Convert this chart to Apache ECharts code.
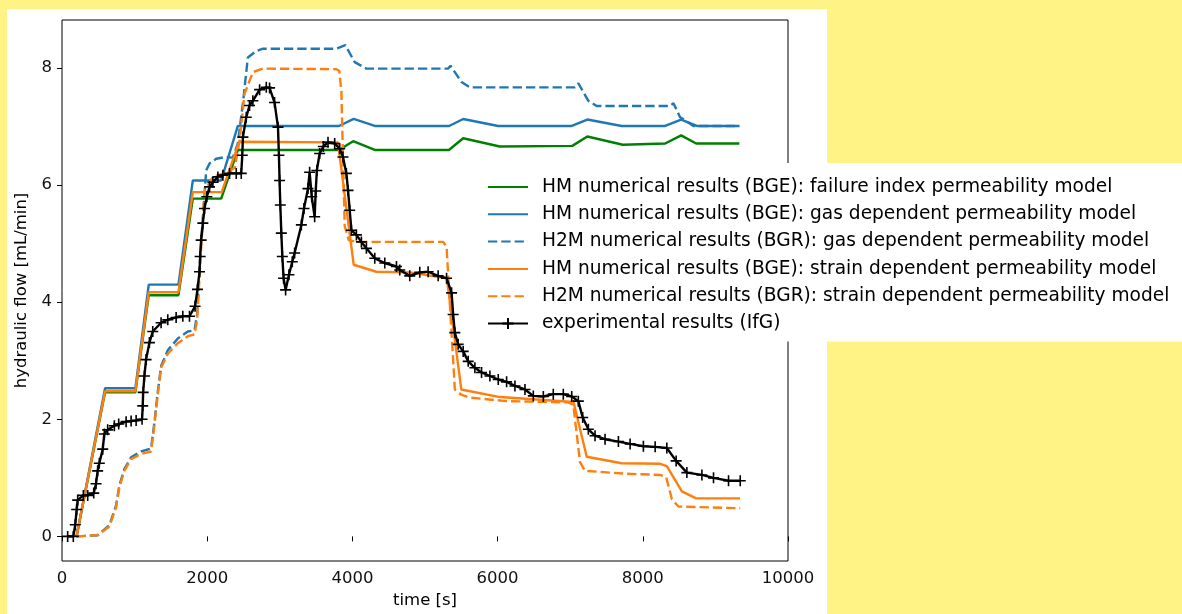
<!DOCTYPE html>
<html>
<head>
<meta charset="utf-8">
<script src="https://cdn.jsdelivr.net/npm/echarts@6/dist/echarts.min.js"></script>
<style>
html,body{margin:0;padding:0;background:#fff386;width:1182px;height:614px;overflow:hidden;}
#panel{position:absolute;left:7px;top:9px;width:820px;height:605px;background:#fff;}
#chart{position:absolute;left:0;top:0;width:1182px;height:614px;}
</style>
</head>
<body>
<div id="panel"></div>
<div id="chart"></div>
<script>
// ---- data (time [s], hydraulic flow [mL/min]) ----
const xTicks = [0, 2000, 4000, 6000, 8000, 10000];
const yTicks = [0, 2, 4, 6, 8];

const seriesNames = [
  'HM numerical results (BGE): failure index permeability model',
  'HM numerical results (BGE): gas dependent permeability model',
  'H2M numerical results (BGR): gas dependent permeability model',
  'HM numerical results (BGE): strain dependent permeability model',
  'H2M numerical results (BGR): strain dependent permeability model',
  'experimental results (IfG)'
];

const hmFailureT = [200, 593, 1011, 1195, 1604, 1802, 2193, 2422, 3815, 4010, 4308, 5329, 5526, 6030, 7029, 7236, 7724, 8308, 8528, 8735, 9330];
const hmFailureV = [0, 2.46, 2.46, 4.12, 4.12, 5.77, 5.77, 6.60, 6.60, 6.75, 6.60, 6.60, 6.80, 6.66, 6.67, 6.83, 6.69, 6.71, 6.85, 6.71, 6.71];

const hmGasT = [200, 593, 1011, 1195, 1604, 1802, 2193, 2422, 3815, 4018, 4308, 5332, 5526, 6008, 7021, 7236, 7710, 8308, 8528, 8745, 9330];
const hmGasV = [0, 2.53, 2.53, 4.30, 4.30, 6.08, 6.08, 7.01, 7.01, 7.13, 7.01, 7.01, 7.13, 7.01, 7.01, 7.12, 7.01, 7.01, 7.12, 7.01, 7.01];

const h2mGasT = [200, 491, 652, 745, 790, 859, 951, 1089, 1227, 1273, 1319, 1365, 1457, 1595, 1733, 1825, 1862, 1910, 1986, 2032, 2124, 2250, 2353, 2420, 2491, 2560, 2676, 2767, 3779, 3903, 4032, 4193, 5319, 5352, 5503, 5618, 7066, 7112, 7250, 7365, 8377, 8422, 8514, 8698, 9330];
const h2mGasV = [0, 0.02, 0.19, 0.53, 0.87, 1.15, 1.35, 1.45, 1.50, 1.95, 2.46, 2.91, 3.18, 3.38, 3.50, 3.52, 3.80, 4.90, 6.25, 6.37, 6.45, 6.48, 6.47, 6.70, 7.39, 8.18, 8.29, 8.33, 8.33, 8.39, 8.10, 7.99, 7.99, 8.04, 7.76, 7.67, 7.67, 7.74, 7.44, 7.35, 7.35, 7.40, 7.16, 7.01, 7.01];

const hmStrainT = [200, 593, 1011, 1195, 1604, 1802, 2200, 2440, 3800, 4018, 4331, 4790, 5300, 5500, 6032, 6997, 7043, 7228, 7710, 8239, 8331, 8538, 8735, 9340];
const hmStrainV = [0, 2.48, 2.48, 4.17, 4.17, 5.88, 5.88, 6.74, 6.73, 4.64, 4.52, 4.51, 4.41, 2.51, 2.38, 2.30, 2.31, 1.36, 1.25, 1.24, 1.20, 0.77, 0.65, 0.65];

const h2mStrainT = [200, 491, 652, 745, 790, 859, 951, 1089, 1227, 1273, 1319, 1365, 1457, 1595, 1733, 1825, 1862, 1910, 1964, 2077, 2284, 2380, 2446, 2514, 2629, 2767, 3779, 3820, 3848, 3894, 3950, 4055, 5250, 5297, 5411, 5500, 5618, 6124, 6974, 7043, 7135, 7204, 7779, 8239, 8322, 8400, 8491, 9342];
const h2mStrainV = [0, 0.02, 0.17, 0.50, 0.84, 1.12, 1.32, 1.41, 1.45, 1.90, 2.42, 2.88, 3.12, 3.30, 3.42, 3.45, 3.70, 4.80, 5.90, 6.14, 6.22, 6.30, 6.76, 7.56, 7.93, 7.99, 7.98, 7.95, 7.60, 5.30, 5.06, 5.03, 5.03, 4.95, 2.51, 2.42, 2.37, 2.31, 2.29, 2.25, 1.27, 1.12, 1.07, 1.05, 1.01, 0.64, 0.51, 0.48];

const expT = [78, 156, 183, 202, 216, 294, 354, 437, 469, 491, 514, 561, 583, 629, 721, 781, 883, 952, 1021, 1103, 1112, 1118, 1135, 1158, 1204, 1250, 1365, 1457, 1572, 1664, 1756, 1833, 1866, 1894, 1903, 1917, 1940, 1963, 1995, 2032, 2078, 2147, 2216, 2308, 2400, 2469, 2483, 2492, 2538, 2583, 2629, 2722, 2814, 2859, 2928, 2975, 2988, 2997, 3007, 3021, 3035, 3052, 3080, 3126, 3172, 3204, 3297, 3333, 3388, 3411, 3440, 3480, 3495, 3510, 3549, 3600, 3664, 3756, 3825, 3870, 3917, 3940, 3963, 3986, 4055, 4124, 4193, 4308, 4446, 4607, 4652, 4790, 4928, 5043, 5181, 5297, 5366, 5388, 5411, 5457, 5526, 5595, 5687, 5779, 5894, 6009, 6124, 6239, 6377, 6492, 6630, 6767, 6905, 7021, 7112, 7172, 7250, 7342, 7480, 7664, 7825, 8008, 8170, 8331, 8459, 8607, 8814, 8974, 9181, 9342];
const expV = [0, 0, 0.20, 0.46, 0.62, 0.70, 0.70, 0.74, 0.90, 1.12, 1.25, 1.49, 1.75, 1.82, 1.89, 1.92, 1.96, 1.97, 1.98, 2.00, 2.23, 2.46, 2.74, 3.02, 3.31, 3.50, 3.65, 3.70, 3.74, 3.76, 3.76, 3.93, 4.22, 4.52, 4.78, 5.06, 5.35, 5.60, 5.80, 5.97, 6.05, 6.14, 6.17, 6.20, 6.20, 6.20, 6.51, 6.82, 7.16, 7.36, 7.44, 7.63, 7.67, 7.66, 7.41, 6.99, 6.51, 6.08, 5.66, 5.18, 4.78, 4.41, 4.21, 4.47, 4.69, 4.84, 5.32, 5.60, 5.94, 6.22, 5.80, 5.46, 5.90, 6.25, 6.54, 6.66, 6.73, 6.71, 6.62, 6.48, 6.20, 5.91, 5.57, 5.23, 5.15, 5.03, 4.92, 4.75, 4.67, 4.61, 4.55, 4.45, 4.51, 4.52, 4.45, 4.41, 4.16, 3.79, 3.48, 3.28, 3.16, 2.99, 2.88, 2.80, 2.74, 2.68, 2.64, 2.57, 2.51, 2.40, 2.39, 2.43, 2.43, 2.39, 2.31, 2.03, 1.83, 1.72, 1.66, 1.62, 1.58, 1.54, 1.53, 1.51, 1.29, 1.09, 1.05, 1.00, 0.95, 0.95];

// ---- chart ----
const zip = (t, v) => t.map((x, i) => [x, v[i]]);
const FONT = 'DejaVu Sans';
const FS = 16.5;
const LFS = 18.6;

function lineSeries(name, t, v, color, dashed) {
  return {
    name: name, type: 'line', data: zip(t, v),
    symbol: 'none', showSymbol: false, animation: false,
    lineStyle: { color: color, width: 2.4, type: dashed ? [9.3, 4] : 'solid' },
    itemStyle: { color: color }
  };
}

const legendData = seriesNames.map((n, i) => i < 5 ? { name: n, itemStyle: { opacity: 0 } } : { name: n });

const chart = echarts.init(document.getElementById('chart'), null, { renderer: 'canvas' });
chart.setOption({
  animation: false,
  backgroundColor: 'transparent',
  textStyle: { fontFamily: FONT },
  grid: { left: 62, right: 394, top: 20, bottom: 52, show: true, borderColor: '#000', borderWidth: 1, backgroundColor: 'transparent' },
  xAxis: {
    type: 'value', min: xTicks[0], max: xTicks[xTicks.length - 1], interval: 2000,
    name: 'time [s]', nameLocation: 'middle', nameGap: 31,
    nameTextStyle: { fontFamily: FONT, fontSize: FS, color: '#000' },
    axisLine: { show: false },
    axisTick: { show: true, length: 5, lineStyle: { color: '#000', width: 1 } },
    axisLabel: { fontFamily: FONT, fontSize: FS, color: '#111', margin: 9, formatter: v => String(v) },
    splitLine: { show: false }
  },
  yAxis: {
    type: 'value', min: -0.42, max: 8.82,
    name: 'hydraulic flow [mL/min]', nameLocation: 'middle', nameGap: 29, nameRotate: 90,
    nameTextStyle: { fontFamily: FONT, fontSize: FS, color: '#000' },
    axisLine: { show: false },
    axisTick: { show: true, length: 5, customValues: yTicks, lineStyle: { color: '#000', width: 1 } },
    axisLabel: { fontFamily: FONT, fontSize: FS, color: '#111', margin: 10, customValues: yTicks, formatter: v => String(v) },
    splitLine: { show: false }
  },
  legend: {
    orient: 'vertical', left: 476, top: 163,
    padding: [13, 80, 7, 11],
    backgroundColor: '#fff', borderWidth: 0,
    itemWidth: 40, itemHeight: 14, itemGap: 5.3,
    textStyle: { fontFamily: FONT, fontSize: LFS, color: '#000', lineHeight: 22, padding: [0, 0, 0, 9] },
    data: legendData
  },
  series: [
    lineSeries(seriesNames[0], hmFailureT, hmFailureV, '#008000', false),
    lineSeries(seriesNames[1], hmGasT, hmGasV, '#1f77b4', false),
    lineSeries(seriesNames[2], h2mGasT, h2mGasV, '#1f77b4', true),
    lineSeries(seriesNames[3], hmStrainT, hmStrainV, '#ff7f0e', false),
    lineSeries(seriesNames[4], h2mStrainT, h2mStrainV, '#ff7f0e', true),
    {
      name: seriesNames[5], type: 'line', data: zip(expT, expV),
      symbol: 'path://M0,5L10,5M5,0L5,10', symbolSize: 11, showSymbol: true, showAllSymbol: true,
      animation: false,
      lineStyle: { color: '#000', width: 2.4 },
      itemStyle: { color: '#000', borderColor: '#000', borderWidth: 1.6 }
    }
  ]
});
</script>
</body>
</html>
